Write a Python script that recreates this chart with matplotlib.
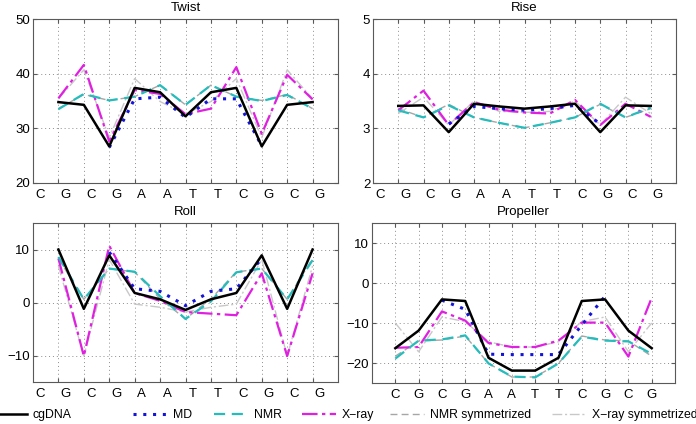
import numpy as np
from matplotlib import pyplot as plt
from matplotlib.lines import Line2D

plt.rcParams["font.family"] = ["Liberation Sans", "DejaVu Sans"]
plt.rcParams["font.size"] = 9.5

bases = ["C", "G", "C", "G", "A", "A", "T", "T", "C", "G", "C", "G"]

# base-pair steps (11 values), MD only for steps 3..9
twist_cg = [34.8, 34.3, 26.7, 37.4, 36.6, 32.2, 36.6, 37.4, 26.7, 34.3, 34.8]
twist_md = [26.5, 35.4, 35.7, 32.0, 35.4, 35.4, 26.8]
twist_nmr = [33.5, 36.3, 35.1, 35.8, 37.9, 34.3, 37.9, 35.8, 35.0, 36.1, 33.6]
twist_xray = [35.5, 41.6, 27.6, 37.0, 36.3, 32.6, 33.6, 41.2, 29.0, 39.8, 35.3]
twist_nmr_sym = [33.6, 36.2, 35.1, 35.8, 37.9, 34.3, 37.9, 35.8, 35.1, 36.2, 33.6]
twist_xray_sym = [35.4, 40.7, 28.3, 39.1, 34.9, 32.6, 34.9, 39.1, 28.3, 40.7, 35.4]

rise_cg = [3.41, 3.42, 2.93, 3.45, 3.40, 3.36, 3.40, 3.45, 2.93, 3.42, 3.41]
rise_md = [3.08, 3.40, 3.36, 3.33, 3.36, 3.42, 3.08]
rise_nmr = [3.33, 3.20, 3.42, 3.20, 3.10, 3.01, 3.10, 3.20, 3.45, 3.20, 3.38]
rise_xray = [3.33, 3.69, 3.06, 3.48, 3.34, 3.29, 3.27, 3.52, 3.06, 3.45, 3.21]
rise_nmr_sym = [3.36, 3.20, 3.44, 3.20, 3.10, 3.01, 3.10, 3.20, 3.44, 3.20, 3.36]
rise_xray_sym = [3.27, 3.57, 3.06, 3.50, 3.31, 3.29, 3.31, 3.50, 3.06, 3.57, 3.27]

roll_cg = [10.0, -1.2, 8.9, 1.8, 0.6, -1.4, 0.6, 1.8, 8.9, -1.2, 10.0]
roll_md = [9.5, 2.6, 2.1, -0.6, 2.1, 2.6, 8.3]
roll_nmr = [8.6, 0.6, 6.4, 5.8, 1.2, -3.1, 0.2, 5.7, 6.4, 0.6, 8.0]
roll_xray = [8.3, -10.1, 10.7, 1.8, 0.3, -1.8, -2.1, -2.4, 5.5, -10.1, 5.5]
roll_nmr_sym = [8.3, 0.6, 6.4, 5.75, 0.7, -3.1, 0.7, 5.75, 6.4, 0.6, 8.3]
roll_xray_sym = [6.9, -10.1, 8.1, -0.3, -0.9, -1.8, -0.9, -0.3, 8.1, -10.1, 6.9]

# base pairs (12 values), MD only for pairs 3..10
prop_cg = [-16.3, -11.9, -4.1, -4.5, -18.7, -21.9, -21.9, -18.7, -4.5, -4.1, -11.9, -16.3]
prop_md = [-4.3, -6.6, -17.8, -17.9, -17.9, -17.9, -10.5, -3.3]
prop_nmr = [-18.9, -14.4, -14.1, -13.1, -20.1, -23.4, -23.6, -20.1, -13.4, -14.4, -14.6, -17.7]
prop_xray = [-16.2, -16.0, -7.1, -9.4, -15.0, -16.0, -16.0, -14.4, -9.9, -9.9, -18.4, -3.7]
prop_nmr_sym = [-18.3, -14.5, -14.25, -13.25, -20.1, -23.5, -23.5, -20.1, -13.25, -14.25, -14.5, -18.3]
prop_xray_sym = [-10.0, -17.2, -8.5, -9.65, -14.7, -16.0, -16.0, -14.7, -9.65, -8.5, -17.2, -10.0]

labels = ["cgDNA", "MD", "NMR", "X\u2212ray", "NMR symmetrized", "X\u2212ray symmetrized"]
styles = [
    dict(color="black", ls="-", lw=1.8, zorder=6),
    dict(color="#1414d8", ls=(0, (1, 2.2)), lw=2.2, zorder=5),
    dict(color="#26bcbc", ls=(0, (5, 3)), lw=1.6, zorder=4),
    dict(color="#e020e0", ls=(0, (7, 2, 1.5, 2)), lw=1.6, zorder=3),
    dict(color="#a6a6a6", ls=(0, (5, 3)), lw=1.0, zorder=2),
    dict(color="#c8c8c8", ls=(0, (7, 2, 1.5, 2)), lw=1.0, zorder=2),
]


def draw(ax, title, series, n, md_start, ylim, yticks, step):
    x = np.arange(1, n + 1)
    for s, (vals, st) in enumerate(zip(series, styles)):
        xs = x[md_start:md_start + len(vals)] if s == 1 else x
        ax.plot(xs, vals, **st)
    ax.set_xlim(0, n + 1)
    ax.set_ylim(*ylim)
    ax.set_yticks(yticks)
    if step:
        ax.set_xticks(x, labels=[])
        ax.set_xticks(np.arange(12) + 0.27, labels=bases, minor=True)
        ax.tick_params(axis="x", which="minor", length=0, pad=4)
    else:
        ax.set_xticks(x, labels=bases)
        ax.tick_params(axis="x", which="minor", length=0)
    ax.tick_params(which="major", direction="in", length=3, top=True, right=True,
                   color="0.35", pad=4)
    ax.tick_params(axis="y", pad=2)
    ax.grid(True, which="major", linestyle=(0, (1, 3)), color="0.55", linewidth=0.7)
    for sp in ax.spines.values():
        sp.set_color("0.35")
        sp.set_linewidth(0.8)
    ax.set_title(title, fontsize=9.5, pad=6)


def main() -> None:
    fig = plt.figure(figsize=(6.96, 4.24), dpi=100)
    W, H = 696, 424

    def box(l, r, t, b):
        return [l / W, 1 - b / H, (r - l) / W, (b - t) / H]

    ax1 = fig.add_axes(box(33, 338, 19, 183))
    ax2 = fig.add_axes(box(373, 676, 19, 183))
    ax3 = fig.add_axes(box(33, 338, 223, 382))
    ax4 = fig.add_axes(box(372, 675, 223, 383))

    draw(ax1, "Twist", [twist_cg, twist_md, twist_nmr, twist_xray, twist_nmr_sym, twist_xray_sym],
         11, 2, (20, 50), [20, 30, 40, 50], True)
    draw(ax2, "Rise", [rise_cg, rise_md, rise_nmr, rise_xray, rise_nmr_sym, rise_xray_sym],
         11, 2, (2, 5), [2, 3, 4, 5], True)
    draw(ax3, "Roll", [roll_cg, roll_md, roll_nmr, roll_xray, roll_nmr_sym, roll_xray_sym],
         11, 2, (-15, 15), [-10, 0, 10], True)
    draw(ax4, "Propeller", [prop_cg, prop_md, prop_nmr, prop_xray, prop_nmr_sym, prop_xray_sym],
         12, 2, (-25, 15), [-20, -10, 0, 10], False)

    # legend entries placed one by one along the bottom
    text_x = [33, 173, 254, 342, 430, 592]
    for lab, st, tx in zip(labels, styles, text_x):
        h = Line2D([], [], color=st["color"], ls=st["ls"], lw=st["lw"])
        fig.legend([h], [lab], loc="center left", bbox_to_anchor=((tx - 40) / W, 1 - 415 / H),
                   frameon=False, borderpad=0, borderaxespad=0, handlelength=2.8,
                   handletextpad=0.45, fontsize=8.8)

    fig.savefig("out.png", dpi=100)


if __name__ == "__main__":
    main()
